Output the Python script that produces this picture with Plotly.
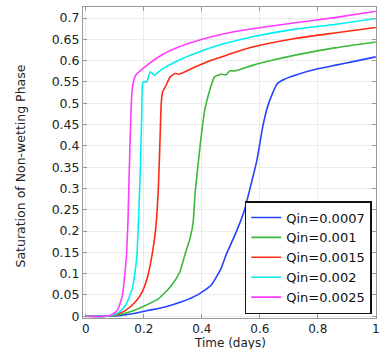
import plotly.graph_objects as go

labels = ["Qin=0.0007", "Qin=0.001", "Qin=0.0015", "Qin=0.002", "Qin=0.0025"]
colors = ["#2244ff", "#3cb83c", "#ff2a14", "#00f0f0", "#ff3cff"]

t_0007 = [0, 0.07, 0.12, 0.16, 0.217, 0.273, 0.33, 0.387, 0.432, 0.466, 0.483, 0.52, 0.547, 0.57, 0.59, 0.61, 0.626, 0.645, 0.66, 0.683, 0.722, 0.8, 0.858, 0.93, 1.0]
s_0007 = [0, 0, 0.002, 0.006, 0.014, 0.022, 0.034, 0.051, 0.073, 0.112, 0.143, 0.2, 0.249, 0.31, 0.366, 0.444, 0.49, 0.525, 0.546, 0.556, 0.566, 0.581, 0.589, 0.599, 0.609]

t_001 = [0, 0.07, 0.11, 0.15, 0.194, 0.25, 0.296, 0.324, 0.341, 0.36, 0.37, 0.377, 0.395, 0.41, 0.427, 0.444, 0.467, 0.484, 0.496, 0.513, 0.575, 0.65, 0.722, 0.858, 1.0]
s_001 = [0, 0, 0.003, 0.01, 0.022, 0.041, 0.073, 0.104, 0.143, 0.185, 0.22, 0.29, 0.406, 0.484, 0.53, 0.562, 0.568, 0.567, 0.576, 0.576, 0.589, 0.602, 0.613, 0.63, 0.644]

t_0015 = [0, 0.07, 0.1, 0.137, 0.171, 0.194, 0.211, 0.228, 0.24, 0.25, 0.256, 0.26, 0.265, 0.275, 0.291, 0.308, 0.32, 0.376, 0.433, 0.49, 0.575, 0.722, 0.858, 1.0]
s_0015 = [0, 0, 0.003, 0.014, 0.034, 0.057, 0.088, 0.143, 0.2, 0.3, 0.42, 0.5, 0.527, 0.54, 0.562, 0.57, 0.568, 0.585, 0.601, 0.614, 0.632, 0.652, 0.665, 0.678]

t_002 = [0, 0.07, 0.095, 0.115, 0.137, 0.16, 0.171, 0.176, 0.183, 0.188, 0.193, 0.197, 0.21, 0.222, 0.235, 0.263, 0.32, 0.376, 0.433, 0.49, 0.575, 0.722, 0.858, 1.0]
s_002 = [0, 0, 0.003, 0.01, 0.026, 0.065, 0.112, 0.143, 0.25, 0.35, 0.48, 0.55, 0.55, 0.574, 0.566, 0.58, 0.601, 0.617, 0.631, 0.642, 0.656, 0.674, 0.685, 0.699]

t_0025 = [0, 0.07, 0.092, 0.109, 0.126, 0.135, 0.14, 0.145, 0.15, 0.155, 0.16, 0.167, 0.172, 0.218, 0.263, 0.32, 0.376, 0.433, 0.49, 0.575, 0.722, 0.858, 1.0]
s_0025 = [0, 0, 0.005, 0.014, 0.049, 0.104, 0.143, 0.22, 0.35, 0.47, 0.535, 0.558, 0.566, 0.593, 0.614, 0.632, 0.645, 0.656, 0.665, 0.675, 0.689, 0.701, 0.716]

series_t = [t_0007, t_001, t_0015, t_002, t_0025]
series_s = [s_0007, s_001, s_0015, s_002, s_0025]

x_ticks = [0, 0.2, 0.4, 0.6, 0.8, 1]
x_tick_text = ["0", "0.2", "0.4", "0.6", "0.8", "1"]
y_ticks = [0, 0.05, 0.1, 0.15, 0.2, 0.25, 0.3, 0.35, 0.4, 0.45, 0.5, 0.55, 0.6, 0.65, 0.7]
y_tick_text = ["0", "0.05", "0.1", "0.15", "0.2", "0.25", "0.3", "0.35", "0.4", "0.45", "0.5", "0.55", "0.6", "0.65", "0.7"]

fig = go.Figure()
for t, s, lab, c in zip(series_t, series_s, labels, colors):
    fig.add_trace(go.Scatter(x=t, y=s, mode="lines", name=lab,
                             line=dict(color=c, width=1.6, shape="spline", smoothing=0.5)))

font = dict(family="DejaVu Sans", size=12.5, color="#222222")
xfont = dict(family="DejaVu Sans", size=12, color="#222222")
axis_common = dict(showgrid=True, gridcolor="#ebebeb", gridwidth=1, zeroline=False,
                   showline=True, linecolor="#999999", linewidth=1, mirror="ticks",
                   ticks="inside", ticklen=4, tickcolor="#999999",
                   ticklabeloverflow="allow")

fig.update_layout(
    width=382, height=349,
    margin=dict(l=83, r=2, t=7, b=31),
    plot_bgcolor="white", paper_bgcolor="white",
    font=font,
    xaxis=dict(range=[-0.01, 1.001], tickvals=x_ticks, ticktext=x_tick_text,
               tickfont=xfont, **axis_common),
    yaxis=dict(range=[-0.004, 0.726], tickvals=y_ticks, ticktext=y_tick_text,
               tickfont=font, **axis_common),
    legend=dict(x=0.552, y=0.376, xanchor="left", yanchor="top",
                bgcolor="white", bordercolor="#111111", borderwidth=1.5,
                font=dict(family="DejaVu Sans", size=13, color="#111111"),
                itemwidth=30, tracegroupgap=0),
    showlegend=True,
    annotations=[
        dict(text="Saturation of Non-wetting Phase", xref="paper", yref="paper",
             x=-0.212, y=0.49, xanchor="center", yanchor="middle",
             textangle=-90, showarrow=False, font=font),
        dict(text="Time (days)", xref="paper", yref="paper",
             x=0.5, y=-0.106, xanchor="center", yanchor="bottom",
             showarrow=False, font=xfont, borderpad=0),
    ],
)

fig.write_html("out.html")
